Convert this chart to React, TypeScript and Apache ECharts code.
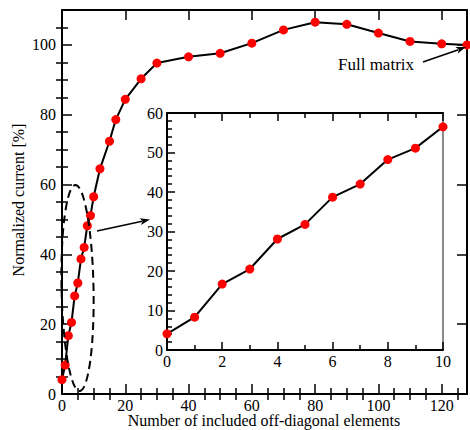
import React, { useEffect, useRef } from "react";
import * as echarts from "echarts";

// ---- data ----
const mainX = [0, 1, 2, 3, 4, 5, 6, 7, 8, 9, 10, 12, 15, 17, 20, 25, 30, 40, 50, 60, 70, 80, 90, 100, 110, 120, 128];
const mainY = [4.1, 8.3, 16.7, 20.5, 28.1, 31.8, 38.7, 42.0, 48.2, 51.1, 56.5, 64.5, 72.4, 78.6, 84.4, 90.3, 94.8, 96.6, 97.6, 100.5, 104.3, 106.5, 105.9, 103.4, 101.0, 100.3, 100.0];
const insetX = [0, 1, 2, 3, 4, 5, 6, 7, 8, 9, 10];
const insetY = [4.1, 8.3, 16.7, 20.5, 28.1, 31.8, 38.7, 42.0, 48.2, 51.1, 56.5];

const mainXMajor = [0, 20, 40, 60, 80, 100, 120];
const mainXMinor = [5, 10, 15, 25, 30, 35, 45, 50, 55, 65, 70, 75, 85, 90, 95, 105, 110, 115, 125];
const mainYMajor = [0, 20, 40, 60, 80, 100];
const mainYMinor = [5, 10, 15, 25, 30, 35, 45, 50, 55, 65, 70, 75, 85, 90, 95, 105];

const xTitle = "Number of included off-diagonal elements";
const yTitle = "Normalized current [%]";
const noteText = "Full matrix";

const FONT = '"Liberation Serif", "Times New Roman", serif';

function arrow(x1: number, y1: number, x2: number, y2: number, len = 10, half = 3.5) {
  const dx = x2 - x1, dy = y2 - y1;
  const d = Math.sqrt(dx * dx + dy * dy);
  const ux = dx / d, uy = dy / d;
  const bx = x2 - ux * len, by = y2 - uy * len;
  const px = -uy, py = ux;
  return [
    { type: "line", shape: { x1, y1, x2: bx + ux * 2, y2: by + uy * 2 }, style: { stroke: "#000", lineWidth: 1.6 }, z: 10 },
    {
      type: "polygon",
      shape: { points: [[x2, y2], [bx + px * half, by + py * half], [bx + ux * 2.5, by + uy * 2.5], [bx - px * half, by - py * half]] },
      style: { fill: "#000" },
      z: 10,
    },
  ];
}

function majorAxis(extra: any) {
  return {
    type: "value",
    z: 5,
    axisLine: { show: true, onZero: false, lineStyle: { color: "#000", width: 2 } },
    splitLine: { show: false },
    ...extra,
  };
}

export default function App() {
  const ref = useRef<HTMLDivElement>(null);
  useEffect(() => {
    if (!ref.current) return;
    const chart = echarts.init(ref.current, null, { renderer: "svg" });
    const labelStyle = { color: "#000", fontSize: 16, fontFamily: FONT };
    const tickMajor = (vals: number[], len: number) => ({ show: true, inside: true, length: len, customValues: vals, lineStyle: { color: "#000", width: 1.5 } });
    const insetTick = { show: true, inside: true, length: 8, lineStyle: { color: "#000", width: 1.5 } };

    const xAxes: any[] = [
      majorAxis({
        gridIndex: 0, position: "bottom", min: 0, max: 128,
        axisTick: tickMajor(mainXMajor, 10),
        axisLabel: { ...labelStyle, customValues: mainXMajor, margin: 3 },
      }),
      majorAxis({
        gridIndex: 0, position: "bottom", min: 0, max: 128,
        axisLine: { show: false },
        axisTick: tickMajor(mainXMinor, 6),
        axisLabel: { show: false },
      }),
      majorAxis({
        gridIndex: 0, position: "top", min: 0, max: 128,
        axisTick: tickMajor(mainXMajor, 10),
        axisLabel: { show: false },
      }),
      majorAxis({
        gridIndex: 0, position: "top", min: 0, max: 128,
        axisLine: { show: false },
        axisTick: tickMajor(mainXMinor, 6),
        axisLabel: { show: false },
      }),
      majorAxis({
        gridIndex: 1, position: "bottom", min: 0, max: 10, interval: 2,
        axisTick: insetTick,
        minorTick: { show: true, splitNumber: 2, length: 5, lineStyle: { color: "#000", width: 1.5 } },
        axisLabel: { ...labelStyle, margin: 3 },
      }),
      majorAxis({
        gridIndex: 1, position: "top", min: 0, max: 10, interval: 2,
        axisTick: insetTick,
        minorTick: { show: true, splitNumber: 2, length: 5, lineStyle: { color: "#000", width: 1.5 } },
        axisLabel: { show: false },
      }),
    ];

    const yAxes: any[] = [
      majorAxis({
        gridIndex: 0, position: "left", min: 0, max: 110,
        axisTick: tickMajor(mainYMajor, 10),
        axisLabel: { ...labelStyle, customValues: mainYMajor, margin: 6 },
      }),
      majorAxis({
        gridIndex: 0, position: "left", min: 0, max: 110,
        axisLine: { show: false },
        axisTick: tickMajor(mainYMinor, 6),
        axisLabel: { show: false },
      }),
      majorAxis({
        gridIndex: 0, position: "right", min: 0, max: 110,
        axisTick: tickMajor(mainYMajor, 10),
        axisLabel: { show: false },
      }),
      majorAxis({
        gridIndex: 0, position: "right", min: 0, max: 110,
        axisLine: { show: false },
        axisTick: tickMajor(mainYMinor, 6),
        axisLabel: { show: false },
      }),
      majorAxis({
        gridIndex: 1, position: "left", min: 0, max: 60, interval: 10,
        axisTick: insetTick,
        minorTick: { show: true, splitNumber: 5, length: 5, lineStyle: { color: "#000", width: 1.5 } },
        axisLabel: { ...labelStyle, margin: 4 },
      }),
      majorAxis({
        gridIndex: 1, position: "right", min: 0, max: 60, interval: 10,
        axisLine: { show: true, onZero: false, lineStyle: { color: "#666", width: 1.5 } },
        axisTick: { show: false },
        axisLabel: { show: false },
      }),
    ];

    chart.setOption({
      animation: false,
      backgroundColor: "#fff",
      grid: [
        { left: 62, top: 10, right: 3, bottom: 36, show: false, outerBoundsMode: "none", containLabel: false },
        { left: 167, top: 113, right: 27, bottom: 80, show: true, backgroundColor: "#fff", borderWidth: 0, z: 0, outerBoundsMode: "none", containLabel: false },
      ],
      xAxis: xAxes,
      yAxis: yAxes,
      series: [
        {
          type: "line",
          xAxisIndex: 0,
          yAxisIndex: 0,
          data: mainX.map((x, i) => [x, mainY[i]]),
          symbol: "circle",
          symbolSize: 9,
          itemStyle: { color: "#ff0000", borderWidth: 0 },
          lineStyle: { color: "#000", width: 2 },
          z: 6,
        },
        {
          type: "line",
          xAxisIndex: 4,
          yAxisIndex: 4,
          data: insetX.map((x, i) => [x, insetY[i]]),
          symbol: "circle",
          symbolSize: 9,
          itemStyle: { color: "#ff0000", borderWidth: 0 },
          lineStyle: { color: "#000", width: 2 },
          z: 6,
        },
      ],
      graphic: [
        {
          type: "ellipse",
          shape: { cx: 77.5, cy: 288, rx: 16, ry: 103 },
          rotation: 0.02,
          originX: 77.5,
          originY: 288,
          style: { fill: "none", stroke: "#000", lineWidth: 2, lineDash: [8, 5] },
          z: 10,
        },
        ...arrow(97, 231, 150, 219.5),
        ...arrow(423, 62, 466, 47),
        {
          type: "text",
          x: 338,
          y: 64,
          style: { text: noteText, fill: "#000", font: `17px ${FONT}`, textVerticalAlign: "middle", textAlign: "left" },
          z: 10,
        },
        {
          type: "text",
          x: 264,
          y: 420.5,
          style: { text: xTitle, fill: "#000", font: `16px ${FONT}`, textVerticalAlign: "middle", textAlign: "center" },
          z: 10,
        },
        {
          type: "text",
          x: 18.5,
          y: 200,
          rotation: Math.PI / 2,
          style: { text: yTitle, fill: "#000", font: `16px ${FONT}`, textVerticalAlign: "middle", textAlign: "center" },
          z: 10,
        },
      ],
    });
    return () => chart.dispose();
  }, []);
  return <div ref={ref} style={{ position: "fixed", left: 0, top: 0, width: 470, height: 430 }} />;
}
